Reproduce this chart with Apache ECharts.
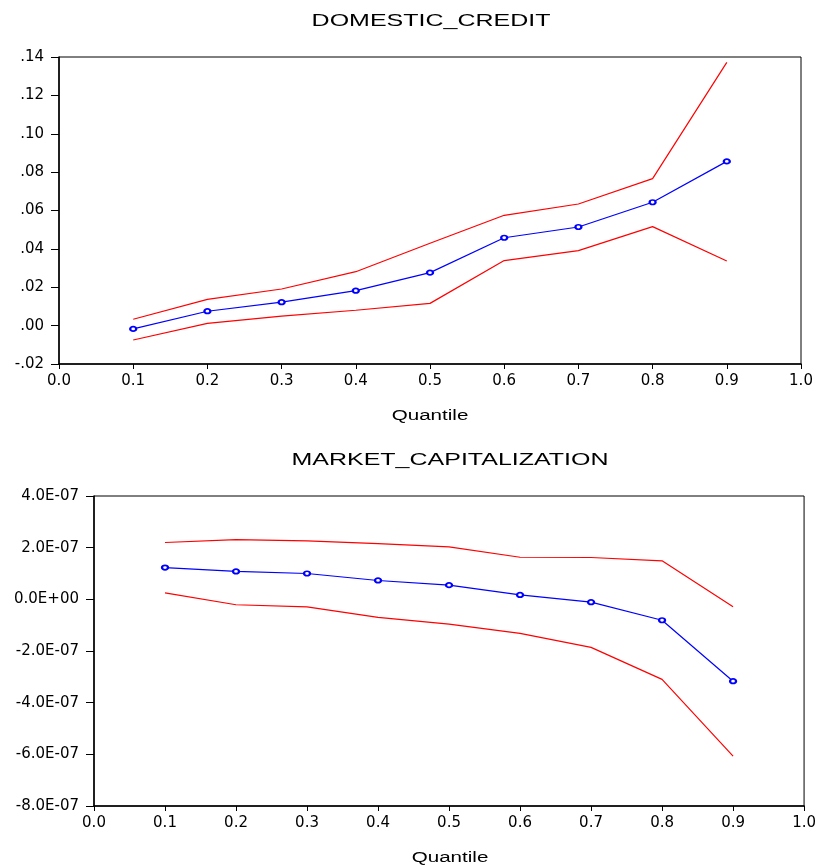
<!DOCTYPE html>
<html>
<head>
<meta charset="utf-8">
<script src="https://cdn.jsdelivr.net/npm/echarts@6/dist/echarts.min.js"></script>
<style>
  html, body { margin: 0; padding: 0; background: #fff; }
  #chart { width: 819px; height: 865px; }
</style>
</head>
<body>
<div id="chart"></div>
<script>
var quantiles = [0.1, 0.2, 0.3, 0.4, 0.5, 0.6, 0.7, 0.8, 0.9];

// DOMESTIC_CREDIT: coefficient and bounds
var dcCoef  = [-0.0017, 0.0075, 0.0122, 0.0182, 0.0276, 0.0458, 0.0514, 0.0643, 0.0856];
var dcUpper = [0.0033, 0.0137, 0.0191, 0.0281, 0.0429, 0.0575, 0.0634, 0.0766, 0.1372];
var dcLower = [-0.0075, 0.0012, 0.0050, 0.0080, 0.0116, 0.0339, 0.0391, 0.0516, 0.0337];

// MARKET_CAPITALIZATION: coefficient and bounds
var mcCoef  = [1.23e-7, 1.08e-7, 1.00e-7, 0.73e-7, 0.55e-7, 0.17e-7, -0.11e-7, -0.81e-7, -3.17e-7];
var mcUpper = [2.20e-7, 2.31e-7, 2.26e-7, 2.16e-7, 2.03e-7, 1.63e-7, 1.62e-7, 1.49e-7, -0.29e-7];
var mcLower = [0.25e-7, -0.21e-7, -0.29e-7, -0.70e-7, -0.96e-7, -1.32e-7, -1.86e-7, -3.10e-7, -6.07e-7];

var titles = ['DOMESTIC_CREDIT', 'MARKET_CAPITALIZATION'];
var xName = 'Quantile';

function pairs(ys) {
    return quantiles.map(function (q, i) { return [q, ys[i]]; });
}

var font = 'Arial, "Liberation Sans", sans-serif';
var tickFont = '"DejaVu Sans", sans-serif';

function dcLabel(v) {
    var s = Math.abs(v).toFixed(2).replace(/^0/, '');
    return (v < -1e-9 ? '-' : '') + s;
}
function mcLabel(v) {
    if (Math.abs(v) < 1e-12) return '0.0E+00';
    var p = v.toExponential(1).split('e');
    var e = parseInt(p[1], 10);
    var es = (e < 0 ? '-' : '+') + (Math.abs(e) < 10 ? '0' : '') + Math.abs(e);
    return p[0] + 'E' + es;
}

function xAxis(idx) {
    return {
        type: 'value', gridIndex: idx, min: 0, max: 1, interval: 0.1,
        axisLine: { onZero: false, lineStyle: { color: '#000', width: 1.5 } },
        axisTick: { inside: false, length: 5, lineStyle: { color: '#000' } },
        axisLabel: { color: '#000', fontSize: 15, fontFamily: tickFont, margin: 10,
            formatter: function (v) { return v.toFixed(1); } },
        splitLine: { show: false }
    };
}

function yAxis(idx, min, max, step, fmt) {
    return {
        type: 'value', gridIndex: idx, min: min, max: max, interval: step,
        axisLine: { show: true, onZero: false, lineStyle: { color: '#000', width: 1.5 } },
        axisTick: { show: true, inside: false, length: 8, lineStyle: { color: '#000' } },
        axisLabel: { color: '#000', fontSize: 15, fontFamily: tickFont, margin: 15, formatter: fmt },
        splitLine: { show: false }
    };
}

function line(name, color, data, xi, yi, marker) {
    return {
        name: name, type: 'line', xAxisIndex: xi, yAxisIndex: yi,
        data: data, animation: false,
        symbol: marker ? 'emptyCircle' : 'none', symbolSize: [6, 4.5],
        itemStyle: { color: color, borderWidth: 1 },
        lineStyle: { color: color, width: 1.2 }
    };
}

// stretched text, the source picture is wider than it is tall
function label(txt, x, y, size) {
    return {
        type: 'text', x: x, y: y, scaleX: 1.47, silent: true,
        style: { text: txt, font: size + 'px ' + font, fill: '#000',
                 align: 'center', verticalAlign: 'middle',
                 textAlign: 'center', textVerticalAlign: 'middle' }
    };
}

var option = {
    backgroundColor: '#fff',
    animation: false,
    graphic: [
        label(titles[0], 431, 21, 17),
        label(titles[1], 450, 460, 17),
        label(xName, 430, 416, 14),
        label(xName, 450, 858, 14)
    ],
    grid: [
        { left: 59, top: 57, width: 742, height: 307, show: true, borderColor: '#000', borderWidth: 1 },
        { left: 94, top: 496, width: 711, height: 310, show: true, borderColor: '#000', borderWidth: 1 }
    ],
    xAxis: [xAxis(0), xAxis(1)],
    yAxis: [
        yAxis(0, -0.02, 0.14, 0.02, dcLabel),
        yAxis(1, -8e-7, 4e-7, 2e-7, mcLabel)
    ],
    series: [
        line('DC upper', '#ff0000', pairs(dcUpper), 0, 0, false),
        line('DC lower', '#ff0000', pairs(dcLower), 0, 0, false),
        line('DC coef', '#0000ff', pairs(dcCoef), 0, 0, true),
        line('MC upper', '#ff0000', pairs(mcUpper), 1, 1, false),
        line('MC lower', '#ff0000', pairs(mcLower), 1, 1, false),
        line('MC coef', '#0000ff', pairs(mcCoef), 1, 1, true)
    ]
};

var chart = echarts.init(document.getElementById('chart'), null, { renderer: 'canvas' });
chart.setOption(option);
</script>
</body>
</html>
